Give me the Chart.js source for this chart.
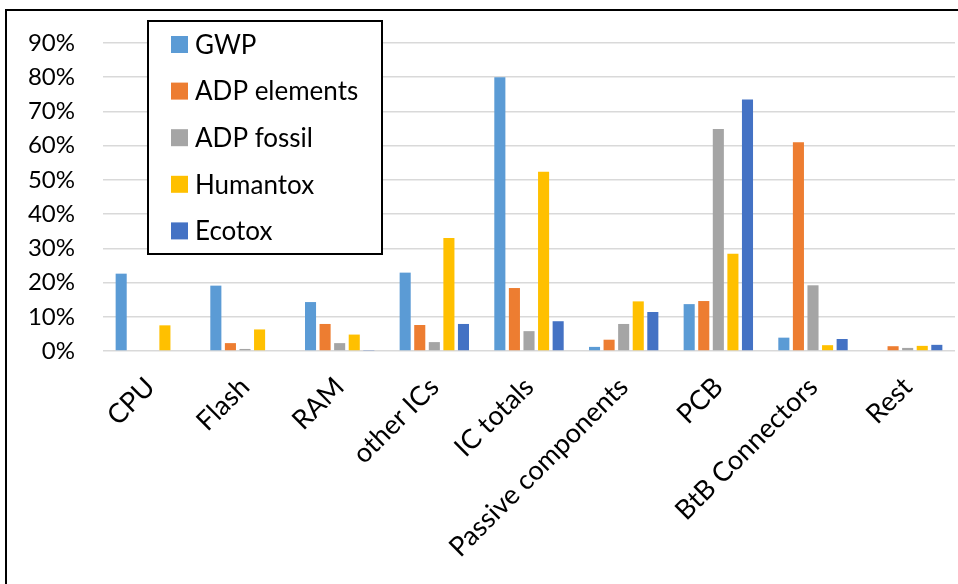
<!DOCTYPE html>
<html>
<head>
<meta charset="utf-8">
<script src="https://cdn.jsdelivr.net/npm/chart.js@4"></script>
<style>
  html, body { margin: 0; padding: 0; background: #fff; }
  #wrap { width: 958px; height: 584px; }
</style>
</head>
<body>
<div id="wrap"><canvas id="chart" width="958" height="584"></canvas></div>
<script>
const categories = ['CPU', 'Flash', 'RAM', 'other ICs', 'IC totals', 'Passive components', 'PCB', 'BtB Connectors', 'Rest'];

// values in percent
const gwp         = [22.6, 19.1, 14.3, 22.9, 80.0, 1.2, 13.7, 3.9, 0];
const adpElements = [0, 2.3, 7.9, 7.6, 18.4, 3.3, 14.6, 61.0, 1.4];
const adpFossil   = [0, 0.6, 2.3, 2.6, 5.8, 7.9, 64.9, 19.2, 0.9];
const humantox    = [7.5, 6.3, 4.8, 33.0, 52.4, 14.5, 28.4, 1.7, 1.5];
const ecotox      = [0, 0, 0.3, 7.9, 8.7, 11.4, 73.5, 3.5, 1.8];

const yTicks = [0, 10, 20, 30, 40, 50, 60, 70, 80, 90];

const FONT = 'Lato, "Open Sans", sans-serif';

// floating legend box drawn over the plot, like the Excel one
const boxLegend = {
  id: 'boxLegend',
  beforeDraw(chart) {
    const ctx = chart.ctx;
    ctx.save();
    ctx.fillStyle = '#fff';
    ctx.fillRect(0, 0, chart.width, chart.height);
    ctx.strokeStyle = '#000';
    ctx.lineWidth = 2;
    ctx.beginPath();
    ctx.moveTo(6, chart.height + 5);
    ctx.lineTo(6, 10);
    ctx.lineTo(chart.width + 5, 10);
    ctx.stroke();
    ctx.restore();
  },
  afterDatasetsDraw(chart, args, opts) {
    const ctx = chart.ctx;
    ctx.save();
    ctx.fillStyle = '#fff';
    ctx.fillRect(opts.x, opts.y, opts.w, opts.h);
    ctx.strokeStyle = '#000';
    ctx.lineWidth = 2;
    ctx.strokeRect(opts.x, opts.y, opts.w, opts.h);
    ctx.font = opts.fontSize + 'px ' + FONT;
    ctx.textBaseline = 'middle';
    chart.data.datasets.forEach((ds, i) => {
      const cy = opts.y + opts.first + i * opts.step;
      ctx.fillStyle = ds.backgroundColor;
      ctx.fillRect(opts.x + 23, cy - 8.5, 17, 17);
      ctx.fillStyle = '#000';
      ctx.fillText(ds.label, opts.x + 47, cy + 1);
    });
    ctx.restore();
  }
};

new Chart(document.getElementById('chart'), {
  type: 'bar',
  data: {
    labels: categories,
    datasets: [
      { label: 'GWP', data: gwp, backgroundColor: '#5B9BD5' },
      { label: 'ADP elements', data: adpElements, backgroundColor: '#ED7D31' },
      { label: 'ADP fossil', data: adpFossil, backgroundColor: '#A5A5A5' },
      { label: 'Humantox', data: humantox, backgroundColor: '#FFC000' },
      { label: 'Ecotox', data: ecotox, backgroundColor: '#4472C4' }
    ]
  },
  options: {
    responsive: false,
    animation: false,
    layout: { padding: { top: 43, right: 3, left: 0, bottom: 0 } },
    datasets: {
      bar: { categoryPercentage: 0.77, barPercentage: 0.76 }
    },
    plugins: {
      legend: { display: false },
      tooltip: { enabled: false },
      boxLegend: { x: 148, y: 21, w: 234, h: 233, first: 23.5, step: 46.6, fontSize: 26 }
    },
    scales: {
      x: {
        grid: { display: false },
        border: { display: false },
        ticks: {
          color: '#000',
          font: { family: FONT, size: 27 },
          maxRotation: 45,
          minRotation: 45,
          padding: 12
        },
        afterFit(scale) { scale.height = 233; }
      },
      y: {
        min: 0,
        max: 90,
        afterBuildTicks(scale) { scale.ticks = yTicks.map(v => ({ value: v })); },
        grid: { color: '#D9D9D9', lineWidth: 1.5, drawTicks: false },
        border: { display: false },
        ticks: {
          color: '#000',
          font: { family: FONT, size: 24 },
          padding: 28,
          callback: v => v + '%'
        },
        afterFit(scale) { scale.width = 103; }
      }
    }
  },
  plugins: [boxLegend]
});
</script>
</body>
</html>
